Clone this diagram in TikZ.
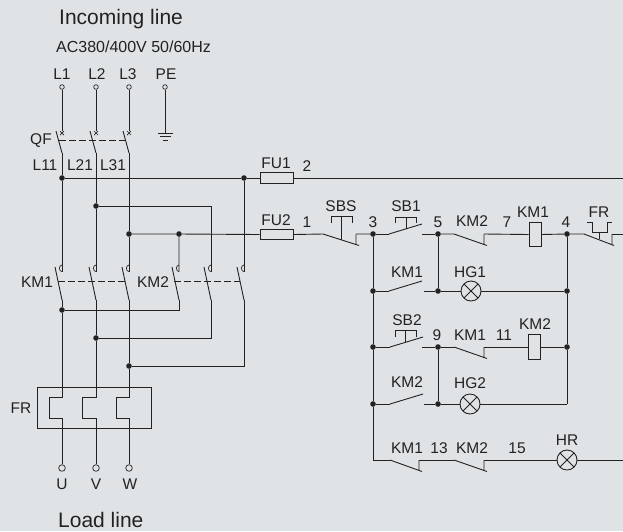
\documentclass[tikz,border=0pt]{standalone}
\usepackage{fontspec}
\setmainfont{Liberation Sans}
\definecolor{wirecol}{HTML}{222222}
\definecolor{bgcol}{HTML}{DFE3E6}
\tikzset{
  wire/.style={draw=wirecol,line width=0.9pt},
  dashlink/.style={draw=wirecol,line width=0.9pt,dash pattern=on 7pt off 3pt},
  lbl/.style={inner sep=0pt,text=wirecol,font=\fontsize{15.5}{15.5}\selectfont},
  title/.style={inner sep=0pt,text=wirecol,anchor=west,font=\fontsize{21}{22}\selectfont},
  sub/.style={inner sep=0pt,text=wirecol,anchor=west,font=\fontsize{16}{16}\selectfont},
  jn/.style={circle,fill=wirecol,inner sep=0pt,minimum size=5.6pt},
  term/.style={circle,draw=wirecol,fill=bgcol,line width=0.7pt,inner sep=0pt,minimum size=4.6pt},
  termb/.style={circle,draw=wirecol,fill=bgcol,line width=0.7pt,inner sep=0pt,minimum size=6.6pt},
  lamp/.style={circle,draw=wirecol,line width=0.9pt,inner sep=0pt,minimum size=20pt,path picture={
    \draw[wirecol,line width=0.9pt] (path picture bounding box.south west)--(path picture bounding box.north east)
      (path picture bounding box.north west)--(path picture bounding box.south east);}},
  coil/.style={rectangle,draw=wirecol,fill=bgcol,line width=0.9pt,inner sep=0pt,minimum width=12pt,minimum height=24.5pt},
  fuse/.style={rectangle,draw=wirecol,line width=0.9pt,inner sep=0pt,minimum width=33pt,minimum height=10.5pt},
}
% normally closed contact: #1 name, #2,#3 left end, #4 offset of the step, #5 length of the blade
\newcommand{\ncontact}[5]{%
  \coordinate (#1l) at (#2,#3);
  \coordinate (#1r) at (#2+#4,#3);
  \draw[wire] (#1l) -- (#2+#5,#3+11.5) (#1r) -- (#2+#4,#3+10.5);}
% normally open contact
\newcommand{\ocontact}[3]{%
  \coordinate (#1l) at (#2,#3);
  \coordinate (#1r) at (#2+34,#3);
  \draw[wire] (#1l) -- (#2+33,#3-10);}
\newcommand{\mainpole}[3]{%
  \coordinate (#1t) at (#2,#3);
  \coordinate (#1b) at (#2,#3+22);
  \draw[wire] (#2-6,#3) -- (#1b);}
\newcommand{\arcpole}[3]{%
  \coordinate (#1a) at (#2,#3+4.5);
  \coordinate (#1b) at (#2,#3+33);
  \draw[wire,line width=0.7pt] (#2,#3-2) arc[start angle=90,end angle=270,x radius=2.6pt,y radius=3.3pt];
  \draw[wire] (#2-7,#3) -- (#1b);}
\newcommand{\heater}[3]{%
  \draw[wire] (#2,387) -- (#2,397) -- (#3,397) -- (#3,418) -- (#2,418) -- (#1);}
\begin{document}
\begin{tikzpicture}[x=1pt,y=-1pt]
\useasboundingbox (0,0) rectangle (623,531);
\fill[bgcol] (0,0) rectangle (623,531);
% ---- titles
\node[title] (tin) at (59,19) {Incoming line};
\node[sub] (tac) at (56,47) {AC380/400V 50/60Hz};
\node[title] (tload) at (58,520) {Load line};
% ---- terminals
\node[term] (L1) at (62,87) {}; \node[term] (L2) at (96,87) {}; \node[term] (L3) at (129,87) {}; \node[term] (PE) at (165,87) {};
\node[lbl] (tL1) at (62,74) {L1}; \node[lbl] (tL2) at (97,74) {L2}; \node[lbl] (tL3) at (128,74) {L3}; \node[lbl] (tPE) at (166,74) {PE};
\node[termb] (U) at (62,468) {}; \node[termb] (V) at (96,468) {}; \node[termb] (W) at (129,468) {};
\node[lbl] (tU) at (62,484) {U}; \node[lbl] (tV) at (96,484) {V}; \node[lbl] (tW) at (130,484) {W};
% ---- earth
\coordinate (gnd) at (165,133);
\draw[wire] (PE) -- (gnd);
\draw[wire] (158,133) -- (173,133) (160,136.5) -- (171,136.5) (163,140) -- (168,140);
% ---- QF
\mainpole{qa}{62}{131}\mainpole{qb}{96}{131}\mainpole{qc}{129}{131}
\draw[wire] (L1) -- (qat) (L2) -- (qbt) (L3) -- (qct);
\draw[wire,line width=0.7pt] (60,131)--(64,135) (64,131)--(60,135) (94,131)--(98,135) (98,131)--(94,135) (127,131)--(131,135) (131,131)--(127,135);
\draw[dashlink] (59,140) -- (125,140);
\node[lbl] (tQF) at (41,141) {QF}; \node[lbl] (tL11) at (45,165) {L11}; \node[lbl] (tL21) at (80,165) {L21}; \node[lbl] (tL31) at (113,165) {L31};
% ---- KM poles
\arcpole{ka}{62}{267}\arcpole{kb}{96}{267}\arcpole{kc}{129}{267}
\arcpole{kd}{179}{267}\arcpole{ke}{211}{267}\arcpole{kf}{244}{267}
\draw[dashlink] (58,281) -- (125,281) (174,281) -- (240,281);
\node[lbl] (tKM1a) at (37,282) {KM1}; \node[lbl] (tKM2a) at (153,282) {KM2};
% ---- junctions of power circuit
\node[jn] (j1) at (62,178) {}; \node[jn] (j2) at (96,206) {}; \node[jn] (j3) at (129,234) {};
\node[jn] (j4) at (244,178) {}; \node[jn] (j5) at (179,234) {};
\node[jn] (j6) at (62,310) {}; \node[jn] (j7) at (96,338) {}; \node[jn] (j8) at (129,366) {};
\node[fuse] (FU1) at (276.5,178) {}; \node[fuse] (FU2) at (276.5,234.5) {};
\node[lbl] (tFU1) at (276,163) {FU1}; \node[lbl] (t2) at (307,166) {2};
\node[lbl] (tFU2) at (276,220) {FU2}; \node[lbl] (t1) at (307,222) {1};
\coordinate (railR1) at (623,178);
\draw[wire] (qab) -- (j1) -- (kaa) (qbb) -- (j2) -- (kba) (qcb) -- (j3) -- (kca);
\draw[wire] (j1) -- (j4) -- (FU1.west) (FU1.east) -- (railR1);
\draw[wire] (j2) -| (kea);
\draw[wire] (j3) -- (j5) -- (FU2.west) (j5) -- (kda);
\draw[wire] (j4) -- (kfa);
\draw[wire] (kab) -- (j6) (kbb) -- (j7) (kcb) -- (j8);
\draw[wire] (j6) -| (kdb) (j7) -| (keb) (j8) -| (kfb);
% ---- thermal relay
\draw[wire] (37,387) rectangle (151,428);
\node[lbl] (tFRa) at (21,408) {FR};
\draw[wire] (j6) -- (62,387) (j7) -- (96,387) (j8) -- (129,387);
\heater{U}{62}{49}\heater{V}{96}{82}\heater{W}{129}{116}
% ---- control circuit
\node[jn] (n3) at (373,234) {}; \node[jn] (n5) at (438,234) {}; \node[jn] (n4) at (567,234) {};
\node[jn] (a1) at (373,291) {}; \node[jn] (a2) at (438,291) {}; \node[jn] (a3) at (567,291) {};
\node[jn] (b1) at (373,347) {}; \node[jn] (b2) at (438,347) {}; \node[jn] (b3) at (567,347) {};
\node[jn] (c1) at (373,404) {}; \node[jn] (c2) at (438,404) {};
\coordinate (c3) at (567,404);
\coordinate (d1) at (373,460);
\coordinate (outFR) at (623,234);
\coordinate (outHR) at (623,460);
\node[lamp] (HG1) at (471,291) {}; \node[lamp] (HG2) at (470,404) {}; \node[lamp] (HR) at (567,460) {};
\node[coil] (cKM1) at (535,234.5) {}; \node[coil] (cKM2) at (534.5,347) {};
% SBS
\ncontact{sbs}{323}{234}{33}{36}
\draw[wire] (341,239.5) -- (341,216) (331,223) -- (331,216) -- (352,216) -- (352,223);
\draw[wire] (FU2.east) -- (sbsl) (sbsr) -- (n3);
% SB1
\ocontact{sb1}{389}{234}
\draw[wire] (n3) -- (sb1l) (406,229) -- (406,217) (395,223) -- (395,217) -- (416,217) -- (416,223);
\draw[wire] (422,234) -- (n5);
% KM2 NC and coil
\ncontact{nc1}{454}{234}{30}{33}
\draw[wire] (n5) -- (nc1l) (nc1r) -- (cKM1.west) (cKM1.east) -- (n4) -- (584,234);
% FR contact
\ncontact{frc}{584}{234}{28}{30}
\draw[wire] (frcr) -- (outFR) (599,239) -- (599,232);
\draw[wire] (587,222) -- (592,222) -- (592,232) -- (607,232) -- (607,222) -- (612,222);
% KM1 NO + HG1
\ocontact{o1}{389}{291}
\draw[wire] (a1) -- (o1l) (424,291) -- (a2) -- (HG1.west) (HG1.east) -- (a3);
% SB2 + KM1 NC + coil
\ocontact{sb2}{390}{347}
\draw[wire] (b1) -- (sb2l) (405,342) -- (405,330) (395,337) -- (395,330) -- (416,330) -- (416,337);
\draw[wire] (422,347) -- (b2);
\ncontact{nc2}{454}{347}{30}{33}
\draw[wire] (b2) -- (nc2l) (nc2r) -- (cKM2.west) (cKM2.east) -- (b3);
% KM2 NO + HG2
\ocontact{o2}{390}{404}
\draw[wire] (c1) -- (o2l) (424,404) -- (c2) -- (HG2.west) (HG2.east) -- (c3);
% bottom rung
\ncontact{nc3}{390}{460}{29}{32}
\ncontact{nc4}{454}{460}{30}{33}
\draw[wire] (d1) -- (nc3l) (nc3r) -- (nc4l) (nc4r) -- (HR.west) (HR.east) -- (outHR);
% verticals
\draw[wire] (n3) -- (a1) -- (b1) -- (c1) -- (d1);
\draw[wire] (n5) -- (a2) (b2) -- (c2);
\draw[wire] (n4) -- (a3) -- (b3) -- (c3);
% ---- control labels
\node[lbl] (tSBS) at (341,206) {SBS}; \node[lbl] (t3) at (373,222) {3}; \node[lbl] (tSB1) at (406,206) {SB1}; \node[lbl] (t5) at (438,222) {5};
\node[lbl] (tKM2b) at (472,221) {KM2}; \node[lbl] (t7) at (507,222) {7}; \node[lbl] (tKM1b) at (533,212) {KM1}; \node[lbl] (t4) at (566,222) {4}; \node[lbl] (tFRb) at (599,212) {FR};
\node[lbl] (tKM1c) at (407,272) {KM1}; \node[lbl] (tHG1) at (470,272) {HG1};
\node[lbl] (tSB2) at (407,320) {SB2}; \node[lbl] (t9) at (437,335) {9}; \node[lbl] (tKM1d) at (470,335) {KM1}; \node[lbl] (t11) at (504,335) {11}; \node[lbl] (tKM2c) at (535,324) {KM2};
\node[lbl] (tKM2d) at (407,382) {KM2}; \node[lbl] (tHG2) at (470,383) {HG2};
\node[lbl] (tKM1e) at (407,448) {KM1}; \node[lbl] (t13) at (439,448) {13}; \node[lbl] (tKM2e) at (472,448) {KM2}; \node[lbl] (t15) at (517,448) {15}; \node[lbl] (tHR) at (567,440) {HR};
\end{tikzpicture}
\end{document}
